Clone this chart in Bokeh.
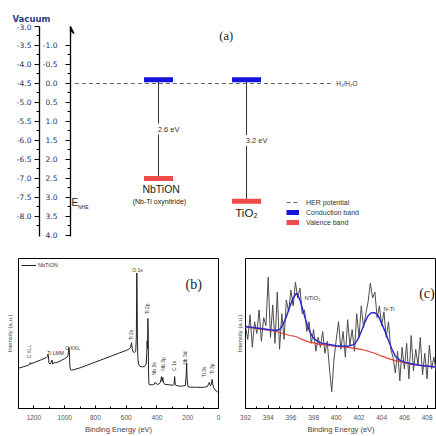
import math
from bokeh.plotting import figure
from bokeh.layouts import column, row
from bokeh.models import (Range1d, LinearAxis, FixedTicker, NumeralTickFormatter, Label,
                          Arrow, VeeHead, Legend, LegendItem)
from bokeh.embed import file_html
from bokeh.resources import INLINE

# ---------------- data: panel (a) band diagram ----------------
materials = ["NbTiON", "TiO₂"]
material_notes = ["(Nb-Ti oxynitride)", ""]
mat_x = [1.0, 2.0]
cb_nhe = [-0.1, -0.1]
vb_nhe = [2.5, 3.1]
her_nhe = 0.0
vacuum_offset = -4.5          # E_vac = -E_NHE - 4.5
nhe_ticks = [-1.0, -0.5, 0.0, 0.5, 1.0, 1.5, 2.0, 2.5, 3.0, 3.5, 4.0]
vac_ticks = [-3.0, -3.5, -4.0, -4.5, -5.0, -5.5, -6.0, -6.5, -7.0, -7.5, -8.0]

# ---------------- data: panel (b) XPS survey ----------------
survey_ev = [1300, 1270, 1240, 1226, 1223, 1220, 1190, 1150, 1120, 1112, 1109, 1106, 1102,
             1095, 1088, 1082, 1078, 1072, 1066, 1058, 1030, 1000, 985, 978, 975, 972, 969,
             966, 962, 955, 900, 850, 800, 750, 700, 650, 600, 580, 572, 568, 565, 561, 555,
             545, 538, 534, 531, 529, 527, 524, 520, 510, 495, 480, 470, 466, 464, 461, 459,
             457, 455, 452, 447, 430, 418, 412, 405, 395, 385, 378, 374, 370, 366, 362, 358,
             350, 320, 295, 289, 285, 281, 270, 240, 215, 210, 207, 204, 198, 180, 150, 120,
             90, 70, 64, 60, 52, 46, 42, 38, 33, 25, 15, 5]
survey_int = [41.7, 43, 44.5, 45.5, 47.5, 46, 48, 50.5, 52.5, 53.5, 56, 55, 47,
              46, 47.5, 50, 46, 46.5, 48, 47, 49, 51.5, 53, 55, 60, 63, 58,
              44, 40, 39.5, 42, 45, 48, 51, 54, 57, 60, 61.5, 63, 66, 68, 62, 58.5,
              58, 59, 75, 140, 115, 70, 52, 46, 43.5, 43, 43.5, 46, 58, 70, 62, 93,
              80, 40, 25, 24.5, 24.5, 25, 27, 25.5, 25, 25.5, 27, 30, 33, 28, 32, 27,
              25, 24.5, 24, 25, 33, 24.5, 23.5, 23, 24, 35, 47, 30, 22.5, 22, 22, 21.8,
              22, 23, 26, 27, 23.5, 25, 30, 26, 22, 20, 18, 17]
survey_peaks = ["C KLL", "Ti LMM", "O KKL", "O 1s", "Ti 2s", "Ti 2p", "Nb 3s", "Nb 3p",
                "C 1s", "Nb 3d", "Ti 3s", "Ti 3p"]
survey_peak_ev = [1230, 1059, 948, 527, 572, 464, 421, 363, 292, 216, 97, 43]
survey_peak_int = [59, 57, 63, 143, 76, 103, 41, 46, 44, 52, 38, 41]
survey_peak_vertical = [True, False, False, False, True, True, True, True, True, True, True, True]

# ---------------- data: panel (c) N 1s ----------------
n1s_ev = [392.0, 392.2, 392.4, 392.6, 392.8, 393.0, 393.2, 393.4, 393.6, 393.8,
          394.0, 394.2, 394.4, 394.6, 394.8, 395.0, 395.2, 395.4, 395.6, 395.8,
          396.0, 396.2, 396.4, 396.6, 396.8, 397.0, 397.2, 397.4, 397.6, 397.8,
          398.0, 398.2, 398.4, 398.6, 398.8, 399.0, 399.2, 399.4, 399.6, 399.8,
          400.0, 400.2, 400.4, 400.6, 400.8, 401.0, 401.2, 401.4, 401.6, 401.8,
          402.0, 402.2, 402.4, 402.6, 402.8, 403.0, 403.2, 403.4, 403.6, 403.8,
          404.0, 404.2, 404.4, 404.6, 404.8, 405.0, 405.2, 405.4, 405.6, 405.8,
          406.0, 406.2, 406.4, 406.6, 406.8, 407.0, 407.2, 407.4, 407.6, 407.8,
          408.0, 408.2, 408.4, 408.6, 408.8]
n1s_int = [83, 70, 95, 62, 88, 76, 100, 68, 92, 84,
           133, 72, 105, 66, 118, 60, 96, 70, 110, 98,
           120, 104, 128, 112, 122, 96, 100, 78, 88, 66,
           80, 58, 72, 62, 78, 56, 68, 40, 17, 50,
           70, 88, 60, 78, 52, 90, 64, 80, 58, 96,
           72, 104, 82, 96, 108, 127, 112, 118, 92, 104,
           84, 98, 72, 88, 60, 52, 36, 58, 28, 62,
           40, 66, 30, 74, 38, 60, 44, 72, 34, 56,
           30, 64, 40, 52, 38]
fit_ev = [392.0, 393.0, 394.0, 394.7, 395.0, 395.3, 395.6, 395.9, 396.2, 396.5, 396.8,
          397.1, 397.4, 397.7, 398.0, 398.5, 399.0, 400.0, 401.0, 401.6, 401.9, 402.2,
          402.5, 402.8, 403.1, 403.4, 403.7, 404.0, 404.3, 404.6, 404.9, 405.2, 405.6,
          406.0, 406.5, 407.5, 408.8]
fit_env = [83, 81.5, 80, 79, 80, 85, 93, 103, 112, 117, 110,
           98, 86, 77, 71, 67, 65.5, 63.5, 63, 65, 70, 78,
           87, 94, 97, 97, 94, 86, 78, 69, 60, 53, 49,
           47, 45.5, 43.5, 42]
fit_bg = [83, 81, 79.5, 78, 77, 76, 75, 74, 73.5, 72.7, 71,
          69.5, 68, 67, 66.5, 65, 64.5, 63, 62, 61, 60.5, 60,
          59, 58, 57, 56, 54.5, 53, 52, 50.5, 49.5, 48.5, 47.5,
          46.5, 45, 43.5, 42]
n1s_peaks = ["NTiO₂", "N-Ti"]
n1s_peak_ev = [397.2, 404.16]
n1s_peak_int = [112, 101]

# ---------------- styling helpers ----------------
SANS = "Liberation Sans"
WIDE = "DejaVu Sans"
SERIF = "Liberation Serif"
NAVY = "#27306b"

def lab(p, x, y, text, size, color="#222222", font=SANS, align="left",
        baseline="middle", angle=0.0, style="normal", bg=None, pad=0):
    kw = dict(x=x, y=y, text=text, text_font=font, text_font_size=size,
              text_color=color, text_align=align, text_baseline=baseline,
              angle=angle, text_font_style=style)
    if bg is not None:
        kw.update(background_fill_color=bg, padding=pad)
    p.add_layout(Label(**kw))

# ================= panel (a) =================
WA, HA = 436, 245
pa = figure(width=WA, height=HA, x_range=Range1d(0, 4.09), y_range=Range1d(4.03, -1.5),
            x_axis_type=None, output_backend="svg", toolbar_location=None,
            min_border_left=70, min_border_right=6, min_border_top=26,
            min_border_bottom=HA - 236)
pa.outline_line_color = None
pa.grid.visible = False
pa.title.text = "Vacuum"
pa.title.align = "left"
pa.title.offset = -58
pa.title.standoff = 5
pa.title.text_font = WIDE
pa.title.text_font_size = "8.5px"
pa.title.text_font_style = "bold"
pa.title.text_color = "#2b3a8c"

def style_axis(ax, standoff):
    ax.axis_line_width = 1.3
    ax.axis_line_color = "black"
    ax.major_tick_line_color = "black"
    ax.minor_tick_line_color = "black"
    ax.major_tick_out = 5
    ax.major_tick_in = 0
    ax.minor_tick_out = 3
    ax.minor_tick_in = 0
    ax.major_label_standoff = standoff
    ax.major_label_text_font = WIDE
    ax.major_label_text_font_size = "7.5px"
    ax.major_label_text_color = NAVY
    ax.formatter = NumeralTickFormatter(format="0.0")

nhe_axis = pa.yaxis[0]
nhe_axis.ticker = FixedTicker(ticks=nhe_ticks,
                              minor_ticks=[t + 0.25 for t in nhe_ticks[:-1]])
style_axis(nhe_axis, 8)

pa.extra_y_ranges = {"vac": Range1d(-4.03 + vacuum_offset, 1.5 + vacuum_offset)}
vac_axis = LinearAxis(y_range_name="vac",
                      ticker=FixedTicker(ticks=vac_ticks,
                                         minor_ticks=[t - 0.25 for t in vac_ticks]))
style_axis(vac_axis, 3)
pa.add_layout(vac_axis, "left")

# arrow on the NHE axis
pa.add_layout(Arrow(end=VeeHead(size=7, line_color="black", line_width=1.3, fill_color=None),
                    x_start=0, y_start=-1.25, x_end=0, y_end=-1.5,
                    line_width=1.3, line_color="black"))

# HER dashed line
her_r = pa.segment(x0=[0.05], x1=[2.99], y0=[her_nhe], y1=[her_nhe],
                   line_color="#6a6a6a", line_width=1.1, line_dash="4 3")

# connecting lines CB -> VB
pa.segment(x0=mat_x, x1=mat_x, y0=cb_nhe, y1=vb_nhe, line_color="#333333", line_width=1)

half = 0.165
cb_r = pa.segment(x0=[x - half for x in mat_x], x1=[x + half for x in mat_x],
                  y0=cb_nhe, y1=cb_nhe, line_color="#1414dc", line_width=5, line_cap="butt")
vb_r = pa.segment(x0=[x - half for x in mat_x], x1=[x + half for x in mat_x],
                  y0=vb_nhe, y1=vb_nhe, line_color="#ee4b4b", line_width=5, line_cap="butt")

for x, c, v in zip(mat_x, cb_nhe, vb_nhe):
    lab(pa, x - 0.02, (c + v) / 2, "%.1f eV" % (v - c), "7.5px", color="#333333",
        bg="white", pad=1)

# material names
lab(pa, mat_x[0] + 0.03, vb_nhe[0] + 0.29, materials[0], "10.5px", color="#222222",
    align="center")
lab(pa, mat_x[0] + 0.01, vb_nhe[0] + 0.6, material_notes[0], "7px", color="#222222",
    align="center")
lab(pa, mat_x[1], vb_nhe[1] + 0.32, materials[1], "11.5px", color="#222222", align="center")

lab(pa, 3.02, her_nhe, "H₂/H₂O", "6.5px", color="#333333")
lab(pa, 1.77, -1.26, "(a)", "12.5px", color="#222222", font=SERIF, align="center")
lab(pa, 0.012, 3.13, "E", "10px", color="#222222")
lab(pa, 0.085, 3.25, "NHE", "5px", color="#222222")

leg_a = Legend(items=[LegendItem(label="HER potential", renderers=[her_r]),
                      LegendItem(label="Conduction band", renderers=[cb_r]),
                      LegendItem(label="Valence band", renderers=[vb_r])],
               location=(216, 9), padding=0, margin=0, spacing=0,
               glyph_width=13, glyph_height=10, label_height=10, label_standoff=7,
               label_text_font=SANS, label_text_font_size="7px", label_text_color="#333333",
               border_line_color=None, background_fill_alpha=0)
pa.add_layout(leg_a)

# ================= panels (b), (c) =================
def style_frame(p, majors, minors, ylabel_standoff):
    p.grid.visible = False
    p.outline_line_color = "black"
    p.outline_line_width = 1
    ax = p.xaxis[0]
    ax.ticker = FixedTicker(ticks=majors, minor_ticks=minors)
    ax.axis_line_color = "black"
    ax.major_tick_in = 3
    ax.major_tick_out = 0
    ax.minor_tick_in = 2
    ax.minor_tick_out = 0
    ax.major_label_standoff = 6
    ax.major_label_text_font = SANS
    ax.major_label_text_font_size = "6.5px"
    ax.major_label_text_color = "#555555"
    ax.axis_label = "Binding Energy (eV)"
    ax.axis_label_text_font = SANS
    ax.axis_label_text_font_size = "7.5px"
    ax.axis_label_text_font_style = "normal"
    ax.axis_label_text_color = "#444444"
    ax.axis_label_standoff = 2
    ay = p.yaxis[0]
    ay.ticker = FixedTicker(ticks=[])
    ay.axis_line_color = None
    ay.major_tick_out = 0
    ay.major_tick_in = 0
    ay.minor_tick_out = 0
    ay.minor_tick_in = 0
    ay.major_label_standoff = 0
    ay.major_label_text_font_size = "0px"
    ay.axis_label = "Intensity (a.u.)"
    ay.axis_label_text_font = SANS
    ay.axis_label_text_font_size = "6px"
    ay.axis_label_text_font_style = "normal"
    ay.axis_label_text_color = "#444444"
    ay.axis_label_standoff = ylabel_standoff

WB, HB = 233, 191
pb = figure(width=WB, height=HB, x_range=Range1d(1300, 0), y_range=Range1d(0, 155),
            output_backend="svg", toolbar_location=None,
            min_border_left=18, min_border_right=WB - 218,
            min_border_top=10, min_border_bottom=HB - 165)
style_frame(pb, [0, 200, 400, 600, 800, 1000, 1200], [100, 300, 500, 700, 900, 1100, 1300], 6)
surv_r = pb.line(survey_ev, survey_int, line_color="#222222", line_width=1)
for t, e, i, vert in zip(survey_peaks, survey_peak_ev, survey_peak_int, survey_peak_vertical):
    lab(pb, e, i, t, "5px", color="#333333", align="center",
        angle=(math.pi / 2 if vert else 0.0))
lab(pb, 161, 128, "(b)", "14px", color="#222222", font=SERIF, align="center")
leg_b = Legend(items=[LegendItem(label="NbTiON", renderers=[surv_r])],
               location="top_left", padding=1, margin=3, glyph_width=15, glyph_height=8,
               label_height=8, label_standoff=2, label_text_font=SANS,
               label_text_font_size="5.5px", label_text_color="#333333",
               border_line_color=None, background_fill_alpha=0)
pb.add_layout(leg_b)

WC, HC = 203, 191
pc = figure(width=WC, height=HC, x_range=Range1d(392, 408.83), y_range=Range1d(0, 152),
            output_backend="svg", toolbar_location=None,
            min_border_left=12, min_border_right=0,
            min_border_top=13, min_border_bottom=HC - 165)
style_frame(pc, [392, 394, 396, 398, 400, 402, 404, 406, 408],
            [393, 395, 397, 399, 401, 403, 405, 407], 3)
pc.line(n1s_ev, n1s_int, line_color="#4d4d4d", line_width=1)
pc.line(fit_ev, fit_bg, line_color="#e0403a", line_width=1.2)
pc.line(fit_ev, fit_env, line_color="#2b2bd0", line_width=1.5)
for t, e, i in zip(n1s_peaks, n1s_peak_ev, n1s_peak_int):
    lab(pc, e, i, t, "6px", color="#333333")
lab(pc, 407.3, 117, "(c)", "14px", color="#222222", font=SERIF)

layout = column(pa, row(pb, pc))
open("out.html", "w").write(file_html(layout, INLINE))
